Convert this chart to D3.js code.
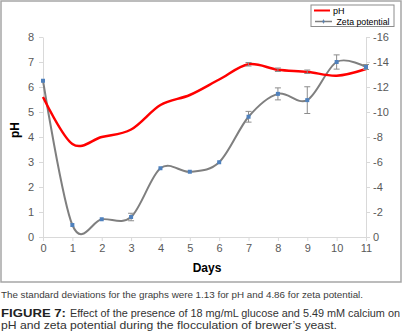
<!DOCTYPE html>
<html>
<head>
<meta charset="utf-8">
<script src="https://cdn.jsdelivr.net/npm/d3@7"></script>
<style>
  html, body { margin: 0; padding: 0; background: #fff; }
  svg { display: block; }
</style>
</head>
<body>
<svg id="chart" width="403" height="334"></svg>
<script>
// ---- data ----
const days = [0, 1, 2, 3, 4, 5, 6, 7, 8, 9, 10, 11];
const ph = [5.6, 3.72, 4.0, 4.3, 5.28, 5.68, 6.3, 6.91, 6.69, 6.61, 6.45, 6.72];
const phErr = [0, 0, 0, 0, 0, 0, 0, 0.07, 0.07, 0.07, 0, 0];
const zeta = [-12.5, -0.96, -1.42, -1.6, -5.5, -5.22, -5.98, -9.62, -11.45, -10.95, -14.0, -13.6];
const zetaErr = [0, 0, 0, 0.3, 0, 0, 0, 0.43, 0.48, 1.07, 0.57, 0.2];
const phTicks = [0, 1, 2, 3, 4, 5, 6, 7, 8];
const zetaTicks = [0, -2, -4, -6, -8, -10, -12, -14, -16];
const dayTicks = days;
const seriesNames = ["pH", "Zeta potential"];
const xTitle = "Days";
const yTitle = "pH";
const note = "The standard deviations for the graphs were 1.13 for pH and 4.86 for zeta potential.";
const figLabel = "FIGURE 7:";
const caption1 = "Effect of the presence of 18 mg/mL glucose and 5.49 mM calcium on";
const caption2 = "pH and zeta potential during the flocculation of brewer\u2019s yeast.";

// ---- layout ----
const svg = d3.select("#chart");
const plot = { left: 43, right: 366, top: 37, bottom: 237 };
const font = "'Liberation Sans', Arial, sans-serif";
const tickColor = "#595959";
const axisColor = "#d9d9d9";

const x = d3.scaleLinear().domain([0, 11]).range([plot.left, plot.right]);
const yL = d3.scaleLinear().domain([0, 8]).range([plot.bottom, plot.top]);
const yR = d3.scaleLinear().domain([0, -16]).range([plot.bottom, plot.top]);

// frame
svg.append("rect").attr("x", 1).attr("y", 1).attr("width", 400).attr("height", 281)
  .attr("fill", "#fff").attr("stroke", "#a6a6a6").attr("stroke-width", 1.5);

function styleAxis(g) {
  g.select(".domain").attr("stroke", axisColor).attr("stroke-width", 1);
  g.selectAll(".tick line").attr("stroke", axisColor).attr("stroke-width", 1);
  g.selectAll(".tick text").attr("fill", tickColor).attr("font-size", 11).attr("font-family", font);
}

svg.append("g").attr("transform", `translate(${plot.left},0)`)
  .call(d3.axisLeft(yL).tickValues(phTicks).tickSize(4).tickSizeOuter(0).tickPadding(5).tickFormat(d3.format("d")))
  .call(styleAxis);

svg.append("g").attr("transform", `translate(${plot.right},0)`)
  .call(d3.axisRight(yR).tickValues(zetaTicks).tickSize(4).tickSizeOuter(0).tickPadding(3).tickFormat(d => d === 0 ? "0" : "-" + Math.abs(d)))
  .call(styleAxis);

svg.append("g").attr("transform", `translate(0,${plot.bottom})`)
  .call(d3.axisBottom(x).tickValues(dayTicks).tickSize(4).tickSizeOuter(0).tickPadding(3).tickFormat(d3.format("d")))
  .call(styleAxis);

// axis titles
svg.append("text").attr("x", 207).attr("y", 272).attr("text-anchor", "middle")
  .attr("font-family", font).attr("font-size", 12).attr("font-weight", "bold").attr("fill", "#000").text(xTitle);
svg.append("text").attr("transform", "translate(19,130) rotate(-90)").attr("text-anchor", "middle")
  .attr("font-family", font).attr("font-size", 12).attr("font-weight", "bold").attr("fill", "#000").text(yTitle);

// lines
const phData = days.map((d, i) => ({ d, v: ph[i], e: phErr[i] }));
const zData = days.map((d, i) => ({ d, v: zeta[i], e: zetaErr[i] }));

const lineL = d3.line().x(p => x(p.d)).y(p => yL(p.v)).curve(d3.curveCardinal.tension(0));
const lineR = d3.line().x(p => x(p.d)).y(p => yR(p.v)).curve(d3.curveCardinal.tension(0));

svg.append("path").datum(zData).attr("d", lineR).attr("fill", "none")
  .attr("stroke", "#7f7f7f").attr("stroke-width", 2);
svg.append("path").datum(phData).attr("d", lineL).attr("fill", "none")
  .attr("stroke", "#ff0000").attr("stroke-width", 2.5);

// error bars
function errBars(data, scale, color) {
  const g = svg.append("g").attr("stroke", color).attr("stroke-width", 1);
  data.filter(p => p.e > 0).forEach(p => {
    const cx = x(p.d), y1 = scale(p.v - p.e), y2 = scale(p.v + p.e);
    g.append("line").attr("x1", cx).attr("x2", cx).attr("y1", y1).attr("y2", y2);
    g.append("line").attr("x1", cx - 3).attr("x2", cx + 3).attr("y1", y1).attr("y2", y1);
    g.append("line").attr("x1", cx - 3).attr("x2", cx + 3).attr("y1", y2).attr("y2", y2);
  });
}
errBars(zData, yR, "#8c8c8c");
errBars(phData, yL, "#8c8c8c");

// markers
svg.append("g").selectAll("rect").data(zData).join("rect")
  .attr("x", p => x(p.d) - 2).attr("y", p => yR(p.v) - 2)
  .attr("width", 4).attr("height", 4).attr("fill", "#4f81bd");

// legend
const lg = svg.append("g");
lg.append("rect").attr("x", 311).attr("y", 5).attr("width", 83).attr("height", 21.5)
  .attr("fill", "#fff").attr("stroke", "#8c8c8c").attr("stroke-width", 1);
lg.append("line").attr("x1", 314).attr("x2", 330).attr("y1", 10.5).attr("y2", 10.5)
  .attr("stroke", "#ff0000").attr("stroke-width", 2);
lg.append("line").attr("x1", 315).attr("x2", 332).attr("y1", 21.5).attr("y2", 21.5)
  .attr("stroke", "#7f7f7f").attr("stroke-width", 1.5);
lg.append("line").attr("x1", 323.5).attr("x2", 323.5).attr("y1", 19.5).attr("y2", 23.5)
  .attr("stroke", "#8c8c8c").attr("stroke-width", 1);
lg.append("rect").attr("x", 322.5).attr("y", 20.5).attr("width", 2).attr("height", 2).attr("fill", "#4f81bd");
lg.append("text").attr("x", 333).attr("y", 13.5).attr("font-family", font).attr("font-size", 9)
  .attr("fill", "#000").text(seriesNames[0]);
lg.append("text").attr("x", 336.5).attr("y", 25).attr("font-family", font).attr("font-size", 9)
  .attr("fill", "#000").attr("textLength", 53).attr("lengthAdjust", "spacingAndGlyphs").text(seriesNames[1]);

// captions
svg.append("text").attr("x", 1).attr("y", 297.5).attr("font-family", font).attr("font-size", 9)
  .attr("fill", "#3c3c3c").attr("textLength", 362).attr("lengthAdjust", "spacingAndGlyphs").text(note);
svg.append("text").attr("x", 1).attr("y", 317).attr("font-family", font).attr("font-size", 11)
  .attr("font-weight", "bold").attr("fill", "#222").attr("textLength", 65).attr("lengthAdjust", "spacingAndGlyphs").text(figLabel);
svg.append("text").attr("x", 70).attr("y", 317).attr("font-family", font).attr("font-size", 11)
  .attr("fill", "#333").attr("textLength", 330).attr("lengthAdjust", "spacingAndGlyphs").text(caption1);
svg.append("text").attr("x", 1).attr("y", 329).attr("font-family", font).attr("font-size", 11)
  .attr("fill", "#333").attr("textLength", 336).attr("lengthAdjust", "spacingAndGlyphs").text(caption2);
</script>
</body>
</html>
